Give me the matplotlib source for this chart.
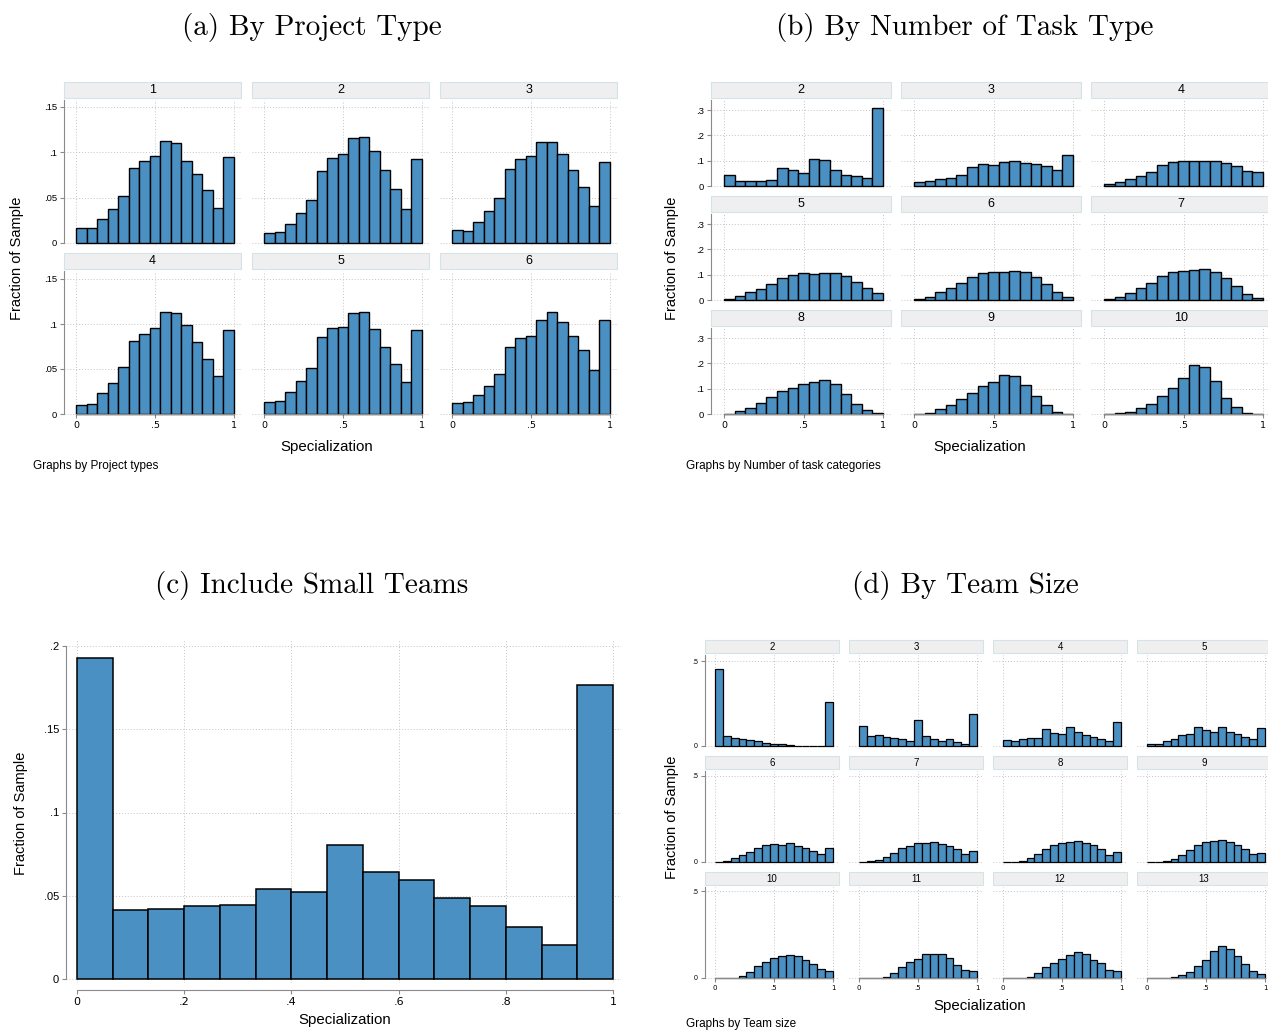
import numpy as np
import matplotlib
matplotlib.use("Agg")
import matplotlib.pyplot as plt
from matplotlib.patches import Rectangle

W, H = 1268, 1030
BLUE = "#4a90c2"
GRAY = "#8a8a8a"
SANS = "Liberation Sans"

# 15 equal bins on [0, 1]
edges = np.linspace(0, 1, 16)

# (a) by project type
proj_labels = ["1", "2", "3", "4", "5", "6"]
proj_vals = [
    [0.016, 0.017, 0.027, 0.038, 0.052, 0.083, 0.090, 0.096, 0.112, 0.110, 0.090, 0.076, 0.058, 0.039, 0.095],
    [0.011, 0.012, 0.021, 0.033, 0.047, 0.079, 0.094, 0.098, 0.116, 0.117, 0.101, 0.081, 0.060, 0.038, 0.093],
    [0.014, 0.013, 0.023, 0.035, 0.050, 0.082, 0.093, 0.096, 0.111, 0.111, 0.098, 0.081, 0.062, 0.041, 0.089],
    [0.010, 0.011, 0.023, 0.035, 0.052, 0.081, 0.089, 0.096, 0.113, 0.112, 0.099, 0.080, 0.061, 0.042, 0.093],
    [0.013, 0.014, 0.025, 0.037, 0.051, 0.086, 0.096, 0.097, 0.112, 0.113, 0.094, 0.074, 0.056, 0.036, 0.093],
    [0.012, 0.013, 0.021, 0.031, 0.045, 0.074, 0.085, 0.087, 0.104, 0.113, 0.102, 0.087, 0.071, 0.049, 0.104],
]
proj_yticks = [0, 0.05, 0.1, 0.15]
proj_ylabels = ["0", ".05", ".1", ".15"]

# (b) by number of task categories
task_labels = ["2", "3", "4", "5", "6", "7", "8", "9", "10"]
task_vals = [
    [0.043, 0.019, 0.019, 0.019, 0.022, 0.073, 0.064, 0.051, 0.106, 0.103, 0.064, 0.043, 0.039, 0.030, 0.309],
    [0.017, 0.020, 0.028, 0.033, 0.043, 0.074, 0.085, 0.083, 0.095, 0.098, 0.089, 0.085, 0.077, 0.063, 0.121],
    [0.009, 0.017, 0.027, 0.040, 0.056, 0.082, 0.095, 0.099, 0.100, 0.100, 0.098, 0.090, 0.080, 0.060, 0.055],
    [0.005, 0.016, 0.031, 0.043, 0.063, 0.085, 0.100, 0.106, 0.104, 0.107, 0.105, 0.093, 0.073, 0.046, 0.028],
    [0.004, 0.013, 0.031, 0.047, 0.067, 0.089, 0.105, 0.109, 0.110, 0.114, 0.110, 0.090, 0.063, 0.033, 0.013],
    [0.003, 0.012, 0.028, 0.046, 0.066, 0.094, 0.109, 0.114, 0.117, 0.122, 0.110, 0.086, 0.055, 0.024, 0.008],
    [0.001, 0.012, 0.024, 0.043, 0.066, 0.089, 0.104, 0.117, 0.128, 0.134, 0.117, 0.079, 0.041, 0.016, 0.004],
    [0.000, 0.005, 0.018, 0.037, 0.060, 0.084, 0.109, 0.126, 0.152, 0.151, 0.114, 0.073, 0.037, 0.009, 0.000],
    [0.000, 0.003, 0.009, 0.024, 0.038, 0.070, 0.102, 0.144, 0.194, 0.185, 0.130, 0.062, 0.028, 0.004, 0.000],
]
task_yticks = [0, 0.1, 0.2, 0.3]
task_ylabels = ["0", ".1", ".2", ".3"]

# (c) include small teams
small_vals = [0.1926, 0.0417, 0.0423, 0.0439, 0.0443, 0.0542, 0.0524, 0.0803,
              0.0644, 0.0596, 0.0488, 0.0441, 0.0313, 0.0205, 0.1768]
small_yticks = [0, 0.05, 0.1, 0.15, 0.2]
small_ylabels = ["0", ".05", ".1", ".15", ".2"]
small_xticks = [0, 0.2, 0.4, 0.6, 0.8, 1]
small_xlabels = ["0", ".2", ".4", ".6", ".8", "1"]

# (d) by team size
size_labels = ["2", "3", "4", "5", "6", "7", "8", "9", "10", "11", "12", "13"]
size_vals = [
    [0.454, 0.059, 0.048, 0.042, 0.036, 0.031, 0.019, 0.013, 0.010, 0.006, 0.002, 0.001, 0.001, 0.001, 0.260],
    [0.120, 0.057, 0.065, 0.053, 0.048, 0.042, 0.031, 0.151, 0.059, 0.044, 0.031, 0.042, 0.021, 0.013, 0.191],
    [0.036, 0.031, 0.044, 0.048, 0.048, 0.099, 0.076, 0.071, 0.111, 0.082, 0.065, 0.052, 0.044, 0.031, 0.139],
    [0.010, 0.013, 0.031, 0.044, 0.063, 0.071, 0.111, 0.094, 0.080, 0.111, 0.082, 0.071, 0.055, 0.040, 0.105],
    [0.000, 0.006, 0.021, 0.038, 0.059, 0.082, 0.099, 0.107, 0.097, 0.111, 0.094, 0.082, 0.065, 0.044, 0.082],
    [0.000, 0.004, 0.013, 0.027, 0.052, 0.080, 0.094, 0.111, 0.111, 0.115, 0.103, 0.092, 0.074, 0.048, 0.065],
    [0.000, 0.000, 0.008, 0.023, 0.048, 0.076, 0.101, 0.113, 0.115, 0.120, 0.109, 0.097, 0.073, 0.042, 0.059],
    [0.000, 0.000, 0.006, 0.017, 0.042, 0.071, 0.097, 0.115, 0.122, 0.126, 0.116, 0.097, 0.073, 0.048, 0.052],
    [0.000, 0.000, 0.002, 0.013, 0.034, 0.068, 0.093, 0.116, 0.127, 0.133, 0.127, 0.105, 0.080, 0.051, 0.042],
    [0.000, 0.000, 0.000, 0.008, 0.029, 0.061, 0.091, 0.110, 0.137, 0.137, 0.137, 0.116, 0.076, 0.048, 0.038],
    [0.000, 0.000, 0.000, 0.008, 0.027, 0.063, 0.086, 0.110, 0.133, 0.150, 0.139, 0.103, 0.086, 0.048, 0.038],
    [0.000, 0.000, 0.000, 0.004, 0.015, 0.036, 0.067, 0.105, 0.156, 0.183, 0.167, 0.127, 0.082, 0.042, 0.021],
]
size_yticks = [0, 0.5]
size_ylabels = ["0", ".5"]

facet_xticks = [0, 0.5, 1]
facet_xlabels = ["0", ".5", "1"]

fig = plt.figure(figsize=(W / 100, H / 100), dpi=100)


def box(x0, y0, x1, y1):
    return [x0 / W, 1 - y1 / H, (x1 - x0) / W, (y1 - y0) / H]


def style(ax, left, bottom, fs):
    for s in ["top", "right"]:
        ax.spines[s].set_visible(False)
    ax.spines["left"].set_visible(left)
    ax.spines["bottom"].set_visible(bottom)
    ax.spines["left"].set_color(GRAY)
    ax.spines["bottom"].set_color(GRAY)
    ax.grid(True, ls=(0, (1, 2)), color="#c4c4c4", lw=0.7)
    ax.set_axisbelow(True)
    ax.tick_params(direction="out", length=3, width=0.8, color=GRAY,
                   labelsize=fs, pad=2, left=left, labelleft=left,
                   bottom=bottom, labelbottom=bottom)
    for t in ax.get_xticklabels() + ax.get_yticklabels():
        t.set_fontfamily(SANS)


def facet(vals, label, x0, x1, px0, px1, hy0, hy1, y1, py0, pytop,
          yticks, ylabels, left, bottom, fs_tick, fs_hdr, lw):
    y0 = hy1 + 2
    ax = fig.add_axes(box(x0, y0, x1, y1))
    ax.set_xlim((x0 - px0) / (px1 - px0), (x1 - px0) / (px1 - px0))
    k = yticks[-1] / (py0 - pytop)
    ytop = (py0 - y0) * k
    ax.set_ylim(-(y1 - py0) * k, ytop)
    ax.bar(edges[:-1], vals, width=1 / 15, align="edge", color=BLUE,
           edgecolor="black", lw=lw)
    ax.set_xticks(facet_xticks)
    ax.set_xticklabels(facet_xlabels)
    ax.set_yticks(yticks)
    ax.set_yticklabels(ylabels)
    style(ax, left, bottom, fs_tick)
    ax.spines["bottom"].set_position(("data", 0))
    ax.spines["bottom"].set_bounds(0, 1)
    ax.spines["left"].set_bounds(0, ytop)
    fig.add_artist(Rectangle((x0 / W, 1 - hy1 / H), (x1 - x0) / W, (hy1 - hy0) / H,
                             transform=fig.transFigure, fc="#efefef",
                             ec="#d6e1ea", lw=0.8))
    fig.text((x0 + x1) / 2 / W, 1 - (hy0 + hy1) / 2 / H, label, ha="center",
             va="center", fontsize=fs_hdr, family=SANS)
    return ax


def title(x, y, s):
    fig.text(x / W, 1 - y / H, s, ha="center", va="center", fontsize=21,
             family="cmr10")


def stext(x, y, s, fs, ha="center", rot=0):
    fig.text(x / W, 1 - y / H, s, ha=ha, va="center", fontsize=fs,
             family=SANS, rotation=rot)


# ---- (a)
title(312, 27, "(a) By Project Type")
rows_a = [(82, 98, 246, 243, 107), (253, 269, 417, 414, 279)]
for i, (lab, v) in enumerate(zip(proj_labels, proj_vals)):
    r, c = divmod(i, 3)
    hy0, hy1, y1, py0, pyt = rows_a[r]
    x0 = 64 + 188 * c
    facet(v, lab, x0, x0 + 177, x0 + 12, x0 + 170, hy0, hy1, y1, py0, pyt,
          proj_yticks, proj_ylabels, c == 0, r == 1, 6.8, 9, 1.0)
stext(17, 258, "Fraction of Sample", 10.5, rot=90)
stext(327, 447, "Specialization", 10.8)
stext(33, 466, "Graphs by Project types", 8.5, ha="left")

# ---- (b)
title(965, 27, "(b) By Number of Task Type")
rows_b = [(82, 98, 189, 186, 110), (196, 212, 303, 300, 224), (310, 326, 417, 414, 338)]
for i, (lab, v) in enumerate(zip(task_labels, task_vals)):
    r, c = divmod(i, 3)
    hy0, hy1, y1, py0, pyt = rows_b[r]
    x0 = 711 + 190 * c
    facet(v, lab, x0, x0 + 180, x0 + 13, x0 + 172, hy0, hy1, y1, py0, pyt,
          task_yticks, task_ylabels, c == 0, r == 2, 6.8, 9, 1.0)
stext(672, 258, "Fraction of Sample", 10.5, rot=90)
stext(980, 447, "Specialization", 10.8)
stext(686, 466, "Graphs by Number of task categories", 8.5, ha="left")

# ---- (c)
title(312, 586, "(c) Include Small Teams")
cx0, cx1, cy0, cy1 = 66, 621, 639, 983
axc = fig.add_axes(box(cx0, cy0, cx1, cy1))
axc.set_xlim((cx0 - 77) / 536, (cx1 - 77) / 536)
kc = 0.2 / (979 - 646)
axc.set_ylim(-(cy1 - 979) * kc, (979 - cy0) * kc)
axc.bar(edges[:-1], small_vals, width=1 / 15, align="edge", color=BLUE,
        edgecolor="black", lw=1.1)
axc.set_xticks(small_xticks)
axc.set_xticklabels(small_xlabels)
axc.set_yticks(small_yticks)
axc.set_yticklabels(small_ylabels)
style(axc, True, True, 8)
axc.spines["bottom"].set_position(("outward", 5))
axc.spines["bottom"].set_bounds(0, 1)
axc.spines["left"].set_bounds(0, 0.2)
stext(21, 813, "Fraction of Sample", 10.5, rot=90)
stext(345, 1020, "Specialization", 10.8)

# ---- (d)
title(965, 586, "(d) By Team Size")
rows_d = [(640, 653, 749, 746, 661), (756, 769, 865, 862, 776), (872, 885, 981, 978, 891)]
for i, (lab, v) in enumerate(zip(size_labels, size_vals)):
    r, c = divmod(i, 4)
    hy0, hy1, y1, py0, pyt = rows_d[r]
    x0 = 705 + 144 * c
    facet(v, lab, x0, x0 + 134, x0 + 10, x0 + 128, hy0, hy1, y1, py0, pyt,
          size_yticks, size_ylabels, c == 0, r == 2, 5, 7, 0.9)
stext(672, 817, "Fraction of Sample", 10.5, rot=90)
stext(980, 1006, "Specialization", 10.8)
stext(686, 1024, "Graphs by Team size", 8.5, ha="left")

fig.savefig("out.png", dpi=100, facecolor="white")
